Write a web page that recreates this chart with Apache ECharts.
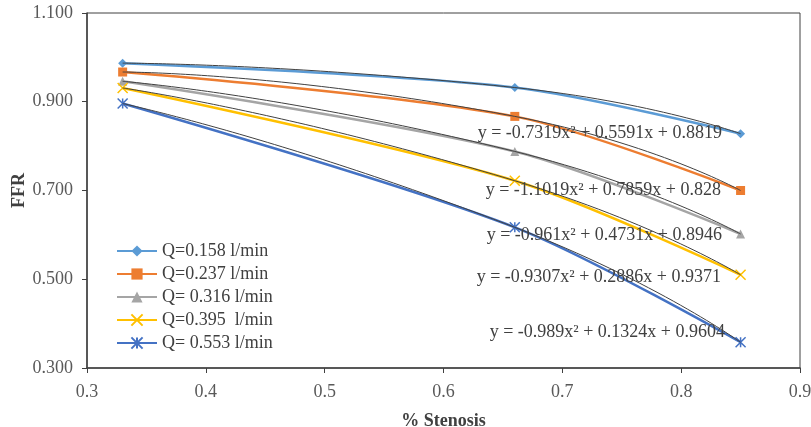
<!DOCTYPE html>
<html>
<head>
<meta charset="utf-8">
<script src="https://cdn.jsdelivr.net/npm/echarts@6/dist/echarts.min.js"></script>
<style>
  html, body { margin: 0; padding: 0; background: #fff; }
  #chart { width: 811px; height: 427px; }
</style>
</head>
<body>
<div id="chart"></div>
<script>
// % stenosis at which FFR was measured
const stenosis = [0.33, 0.66, 0.85];

// FFR values, one array per flow rate
const ffrQ158 = [0.987, 0.932, 0.828];
const ffrQ237 = [0.967, 0.867, 0.700];
const ffrQ316 = [0.946, 0.788, 0.602];
const ffrQ395 = [0.931, 0.722, 0.510];
const ffrQ553 = [0.896, 0.617, 0.358];

const seriesNames = ['Q=0.158 l/min', 'Q=0.237 l/min', 'Q= 0.316 l/min', 'Q=0.395  l/min', 'Q= 0.553 l/min'];
const trendLabels = [
    'y = -0.7319x² + 0.5591x + 0.8819',
    'y = -1.1019x² + 0.7859x + 0.828',
    'y = -0.961x² + 0.4731x + 0.8946',
    'y = -0.9307x² + 0.2886x + 0.9371',
    'y = -0.989x² + 0.1324x + 0.9604'
];

const allData = [ffrQ158, ffrQ237, ffrQ316, ffrQ395, ffrQ553];
const colors = ['#5b9bd5', '#ed7d31', '#a5a5a5', '#ffc000', '#4472c4'];
const symbols = [
    'diamond',
    'rect',
    'triangle',
    'path://M0,0L10,10M10,0L0,10',
    'path://M0,0L10,10M10,0L0,10M5,0L5,10'
];
const symbolSizes = [9, 9, 9, 10, 10];
const serif = '"Liberation Serif", "Times New Roman", serif';

const chart = echarts.init(document.getElementById('chart'));

let series = [];
allData.forEach((vals, i) => {
    series.push({
        name: seriesNames[i],
        type: 'line',
        data: stenosis.map((x, k) => [x, vals[k]]),
        smooth: 0.3,
        symbol: symbols[i],
        symbolSize: symbolSizes[i],
        lineStyle: {color: colors[i], width: 2.5},
        itemStyle: {color: colors[i], borderColor: colors[i], borderWidth: i >= 3 ? 1.5 : 0},
        z: 2
    });
});
// polynomial trend lines (thin dark)
allData.forEach((vals, i) => {
    series.push({
        name: 'trend' + i,
        type: 'line',
        data: stenosis.map((x, k) => [x, vals[k]]),
        smooth: 0.6,
        showSymbol: false,
        lineStyle: {color: '#404040', width: 1},
        silent: true,
        z: 3
    });
});

// equation label positions (right edge, vertical middle)
const labelPos = [[722, 133], [721, 190], [722, 235], [721, 277], [725, 332]];

let option = {
    animation: false,
    grid: {
        left: 87, right: 11, top: 13, bottom: 59,
        containLabel: false,
        outerBoundsMode: 'none',
        show: true, borderColor: '#404040', borderWidth: 1
    },
    legend: {
        data: seriesNames,
        orient: 'vertical',
        left: 111,
        top: 237,
        itemWidth: 40,
        itemHeight: 14,
        itemGap: 5,
        textStyle: {fontFamily: serif, fontSize: 18, color: '#404040'}
    },
    xAxis: {
        type: 'value',
        min: 0.3,
        max: 0.9,
        interval: 0.1,
        name: '% Stenosis',
        nameLocation: 'middle',
        nameGap: 44,
        nameTextStyle: {fontFamily: serif, fontSize: 18, fontWeight: 'bold', color: '#404040'},
        axisLine: {show: true, lineStyle: {color: '#404040', width: 1.5}},
        axisTick: {show: true, length: 5, lineStyle: {color: '#404040'}},
        axisLabel: {fontFamily: serif, fontSize: 18, color: '#595959', margin: 15,
            formatter: v => (Math.round(v * 10) / 10).toString()},
        splitLine: {show: false}
    },
    yAxis: {
        type: 'value',
        min: 0.3,
        max: 1.1,
        interval: 0.2,
        name: 'FFR',
        nameLocation: 'middle',
        nameGap: 59,
        nameMoveOverlap: false,
        nameTextStyle: {fontFamily: serif, fontSize: 18, fontWeight: 'bold', color: '#404040'},
        axisLine: {show: true, lineStyle: {color: '#404040', width: 1.5}},
        axisTick: {show: true, length: 5, lineStyle: {color: '#404040'}},
        axisLabel: {fontFamily: serif, fontSize: 18, color: '#595959', margin: 14,
            formatter: v => v.toFixed(3)},
        splitLine: {show: false}
    },
    graphic: trendLabels.map((t, i) => ({
        type: 'text',
        x: labelPos[i][0],
        y: labelPos[i][1],
        z: 10,
        style: {
            text: t,
            fill: '#404040',
            font: '18px ' + serif,
            textAlign: 'right',
            textVerticalAlign: 'middle'
        }
    })),
    series: series
};

chart.setOption(option);
</script>
</body>
</html>
